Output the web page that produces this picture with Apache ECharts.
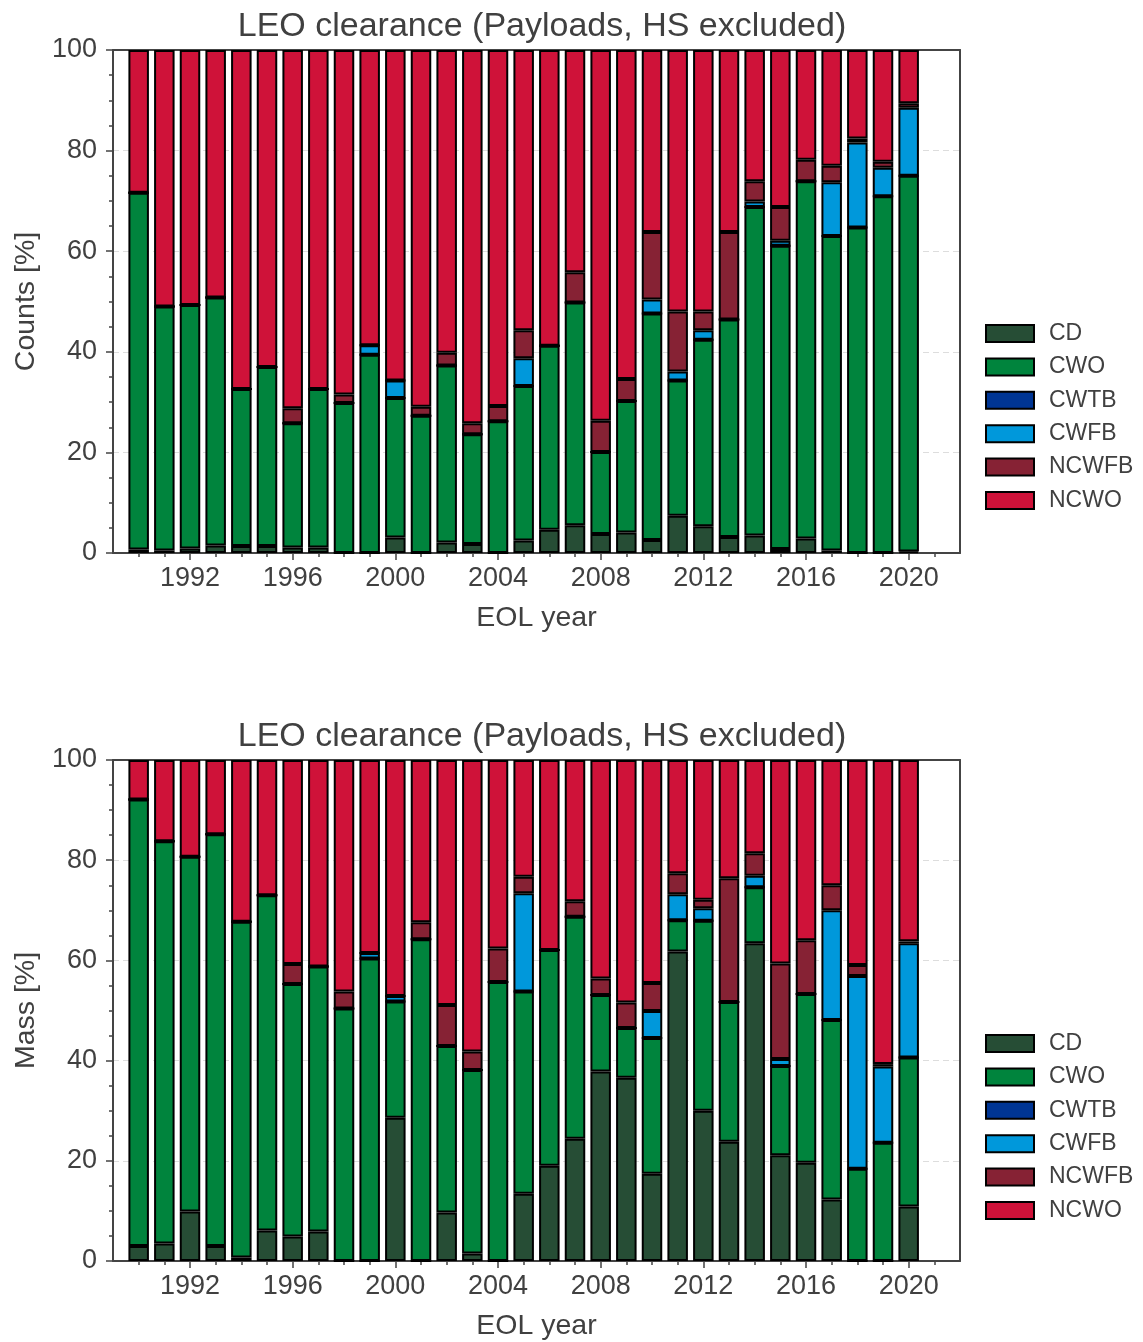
<!DOCTYPE html>
<html>
<head>
<meta charset="utf-8">
<script src="https://cdn.jsdelivr.net/npm/echarts@6/dist/echarts.min.js"></script>
<style>
html,body{margin:0;padding:0;background:#fff;}
#chart{width:1143px;height:1342px;}
</style>
</head>
<body>
<div id="chart"></div>
<script>
// ---- data ----
const axisYears = [1989,1990,1991,1992,1993,1994,1995,1996,1997,1998,1999,2000,2001,2002,2003,2004,2005,2006,2007,2008,2009,2010,2011,2012,2013,2014,2015,2016,2017,2018,2019,2020,2021,2022];
const years = [1990,1991,1992,1993,1994,1995,1996,1997,1998,1999,2000,2001,2002,2003,2004,2005,2006,2007,2008,2009,2010,2011,2012,2013,2014,2015,2016,2017,2018,2019,2020];
const seriesNames = ['CD','CWO','CWTB','CWFB','NCWFB','NCWO'];
const majorTicks = [1992,1996,2000,2004,2008,2012,2016,2020];
const yTicks = [0,20,40,60,80,100];

// Counts [%]
const countsCD    = [0.7,0.5,0.9,1.5,1.4,1.4,1.1,1.1,0,0,3.1,0,2.1,1.8,0,2.5,4.6,5.5,3.8,4.1,2.6,7.4,5.3,3.2,3.5,0.8,2.9,0.5,0,0,0.3];
const countsCWO   = [70.9,48.5,48.4,49.3,31.2,35.6,24.7,31.5,29.8,39.4,27.7,27.3,35.2,21.8,26.2,30.7,36.6,44.3,16.3,26.1,45.0,26.9,37.1,43.2,65.3,60.3,71.0,62.5,64.7,70.9,74.7];
const countsCWTB  = [0,0,0,0,0,0,0,0,0,0,0,0,0,0,0,0,0,0,0,0,0,0,0,0,0,0,0,0,0,0,0];
const countsCWFB  = [0,0,0,0,0,0,0,0,0,1.9,3.5,0,0,0,0,5.5,0,0,0,0,2.8,1.8,1.9,0,1.1,1.0,0,10.7,16.9,5.7,13.5];
const countsNCWFB = [0,0,0,0,0,0,3.0,0,1.7,0,0,1.8,2.5,2.2,3.0,5.6,0,6.0,6.2,4.4,13.4,11.9,3.7,17.4,4.0,6.7,4.3,3.3,0.8,1.2,0.9];
const countsNCWO  = [28.4,51.0,50.7,49.2,67.4,63.0,71.2,67.4,68.5,58.7,65.7,70.9,60.2,74.2,70.8,55.7,58.8,44.2,73.7,65.4,36.2,52.0,52.0,36.2,26.1,31.2,21.8,23.0,17.6,22.2,10.6];

// Mass [%]
const massCD    = [3.0,3.5,9.9,3.0,0.7,6.1,4.9,5.9,0,0,28.6,0,9.7,1.5,0,13.4,19.0,24.4,37.8,36.6,17.4,61.8,30.0,23.8,63.4,21.1,19.6,12.3,0,0,10.9];
const massCWO   = [89.1,80.3,70.8,82.2,67.0,66.9,50.4,52.9,50.4,60.4,23.2,64.2,33.2,36.6,55.7,40.4,43.1,44.3,15.3,9.9,27.1,6.2,37.9,27.9,11.2,17.8,33.7,35.8,18.4,23.6,29.7];
const massCWTB  = [0,0,0,0,0,0,0,0,0,0,0,0,0,0,0,0,0,0,0,0,0,0,0,0,0,0,0,0,0,0,0];
const massCWFB  = [0,0,0,0,0,0,0,0,0,1.1,1.1,0,0,0,0,19.6,0,0,0,0,5.4,5.2,2.5,0,2.3,1.4,0,21.9,38.5,15.2,22.8];
const massNCWFB = [0,0,0,0,0,0,4.0,0,3.4,0,0,3.4,8.2,3.7,6.7,3.3,0,3.1,3.3,5.1,5.6,4.2,1.7,24.7,4.5,19.1,10.7,5.0,2.2,0.5,0.4];
const massNCWO  = [7.9,16.2,19.3,14.8,32.3,27.0,40.7,41.2,46.2,38.5,47.1,32.4,48.9,58.2,37.6,23.3,37.9,28.2,43.6,48.4,44.5,22.6,27.9,23.6,18.6,40.6,36.0,25.0,40.9,60.7,36.2];

const countsData = [countsCD,countsCWO,countsCWTB,countsCWFB,countsNCWFB,countsNCWO];
const massData   = [massCD,massCWO,massCWTB,massCWFB,massNCWFB,massNCWO];
const colors = ['#264D35','#00843D','#003594','#0098DB','#862234','#CF1239'];

// ---- chart ----
const FONT = '"Liberation Sans", Arial, sans-serif';
const TXT = '#404040';
const AX = '#444444';
const cats = axisYears.map(String);
const edge = v => v === String(axisYears[0]) || v === String(axisYears[axisYears.length-1]);

const grids = [
  {left:113, top:50, width:847, height:503},
  {left:113, top:760, width:847, height:503}
];

function xAxes(gi){
  return [
    {type:'category', data:cats, boundaryGap:false, gridIndex:gi, position:'bottom',
     name:'EOL year', nameLocation:'middle', nameGap:51,
     nameTextStyle:{fontFamily:FONT, fontSize:28.5, color:TXT},
     axisLine:{show:true, onZero:false, lineStyle:{color:AX, width:2}},
     axisTick:{show:true, length:7, lineStyle:{color:AX, width:1.5}, interval:(i,v)=>majorTicks.includes(+v)},
     axisLabel:{show:true, margin:12, fontFamily:FONT, fontSize:27, color:TXT, interval:(i,v)=>majorTicks.includes(+v)},
     splitLine:{show:false}},
    {type:'category', data:cats, boundaryGap:false, gridIndex:gi, position:'bottom',
     axisLine:{show:false},
     axisTick:{show:true, length:4, lineStyle:{color:AX, width:1.5}, interval:(i,v)=>!edge(v)},
     axisLabel:{show:false},
     splitLine:{show:false}},
    {type:'category', data:cats, boundaryGap:false, gridIndex:gi, position:'top',
     axisLine:{show:true, onZero:false, lineStyle:{color:AX, width:2}},
     axisTick:{show:false}, axisLabel:{show:false}, splitLine:{show:false}}
  ];
}
function yAxes(gi, name){
  return [{type:'value', gridIndex:gi, min:0, max:100, interval:20, position:'left',
    name:name, nameLocation:'middle', nameGap:71, nameRotate:90,
    nameTextStyle:{fontFamily:FONT, fontSize:28.5, color:TXT},
    axisLine:{show:true, lineStyle:{color:AX, width:2}},
    axisTick:{show:true, length:7, lineStyle:{color:AX, width:1.5}},
    minorTick:{show:true, splitNumber:4, length:4, lineStyle:{color:AX, width:1.5}},
    axisLabel:{margin:16, fontFamily:FONT, fontSize:27, color:TXT, customValues:yTicks},
    splitLine:{show:true, lineStyle:{color:'#dddddd', type:[6,4], width:1}}
  },
  {type:'value', gridIndex:gi, min:0, max:100, interval:20, position:'right',
    axisLine:{show:true, lineStyle:{color:AX, width:2}},
    axisTick:{show:false}, axisLabel:{show:false}, splitLine:{show:false}}];
}

const series = [];
[countsData, massData].forEach((dataset, gi) => {
  dataset.forEach((arr, si) => {
    series.push({
      type:'bar', name:seriesNames[si], xAxisIndex:gi*3, yAxisIndex:gi*2,
      stack:'s'+gi, barWidth:20.5, z:3,
      itemStyle:{color:colors[si], borderColor:'#000', borderWidth:2},
      emphasis:{disabled:true},
      data: years.map((y,i)=>[String(y), arr[i]])
    });
  });
});

function legend(top){
  return {orient:'vertical', left:980, top:top, itemWidth:48, itemHeight:17, itemGap:10.4,
    icon:'rect',
    textStyle:{fontFamily:FONT, fontSize:23, color:TXT, padding:[0,0,0,10]},
    data:seriesNames.map((n,i)=>({name:n, itemStyle:{color:colors[i], borderColor:'#000', borderWidth:2}})),
    selectedMode:false};
}

const title = [
  {text:'LEO clearance (Payloads, HS excluded)', left:537, top:5, textAlign:'center',
   textStyle:{fontFamily:FONT, fontSize:34, fontWeight:'normal', color:TXT}},
  {text:'LEO clearance (Payloads, HS excluded)', left:537, top:715, textAlign:'center',
   textStyle:{fontFamily:FONT, fontSize:34, fontWeight:'normal', color:TXT}}
];

const chart = echarts.init(document.getElementById('chart'), null, {renderer:'canvas'});
chart.setOption({
  animation:false,
  backgroundColor:'#ffffff',
  title:title,
  grid:grids,
  xAxis:[...xAxes(0), ...xAxes(1)],
  yAxis:[...yAxes(0,'Counts [%]'), ...yAxes(1,'Mass [%]')],
  legend:[legend(317), legend(1027)],
  series:series
});
</script>
</body>
</html>
